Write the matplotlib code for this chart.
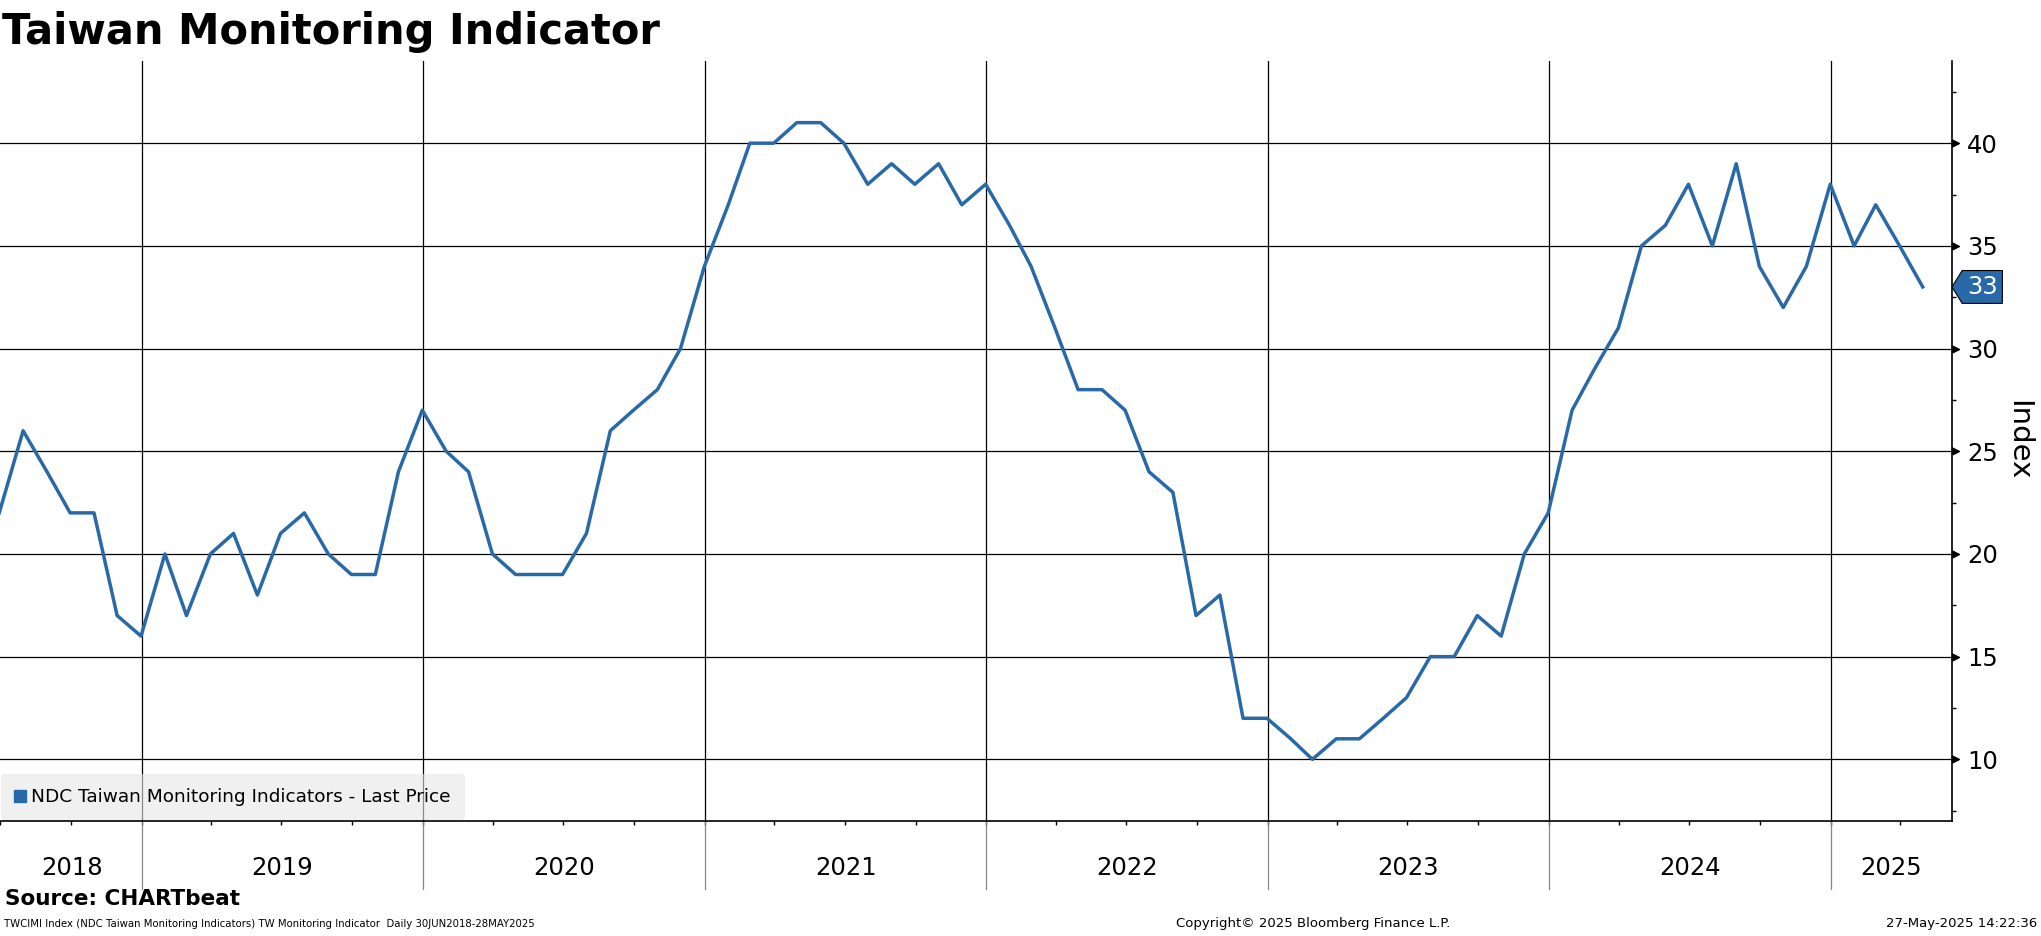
import numpy as np
import pandas as pd
import matplotlib
matplotlib.use("Agg")
import matplotlib.pyplot as plt
from matplotlib.transforms import blended_transform_factory
from matplotlib.patches import Polygon
from matplotlib.lines import Line2D

# monthly readings, Jun 2018 .. Apr 2025 (month end)
dates = pd.date_range("2018-06-30", "2025-04-30", freq="ME")
v2018 = [22, 26, 24, 22, 22, 17, 16]
v2019 = [20, 17, 20, 21, 18, 21, 22, 20, 19, 19, 24, 27]
v2020 = [25, 24, 20, 19, 19, 19, 21, 26, 27, 28, 30, 34]
v2021 = [37, 40, 40, 41, 41, 40, 38, 39, 38, 39, 37, 38]
v2022 = [36, 34, 31, 28, 28, 27, 24, 23, 17, 18, 12, 12]
v2023 = [11, 10, 11, 11, 12, 13, 15, 15, 17, 16, 20, 22]
v2024 = [27, 29, 31, 35, 36, 38, 35, 39, 34, 32, 34, 38]
v2025 = [35, 37, 35, 33]
values = v2018 + v2019 + v2020 + v2021 + v2022 + v2023 + v2024 + v2025

years = [2018, 2019, 2020, 2021, 2022, 2023, 2024, 2025]
yticks = [10, 15, 20, 25, 30, 35, 40]
series_name = "NDC Taiwan Monitoring Indicators - Last Price"

blue = "#2a69a8"
x0 = pd.Timestamp("2018-07-03")
x1 = pd.Timestamp("2025-06-07")

plt.rcParams["font.family"] = "DejaVu Sans"
fig = plt.figure(figsize=(20.41, 9.36), dpi=100)
ax = fig.add_axes([0, 0.1229, 0.9564, 0.8119])

ax.plot(dates, values, color=blue, lw=2.5, zorder=3)
ax.set_xlim(x0, x1)
ax.set_ylim(7, 44)

# grid
for y in yticks:
    ax.axhline(y, color="black", lw=0.9, zorder=1)
sep = blended_transform_factory(ax.transData, ax.transAxes)
for yr in years[1:]:
    d = pd.Timestamp(f"{yr}-01-01")
    ax.axvline(d, color="black", lw=0.9, zorder=1)
    ax.plot([d, d], [0, -0.09], transform=sep, color="#888888", lw=0.9, clip_on=False)

# spines
for s in ["left", "top"]:
    ax.spines[s].set_visible(False)
ax.spines["right"].set_linewidth(1.2)
ax.spines["bottom"].set_linewidth(1.2)

# y axis on the right
ax.yaxis.tick_right()
ax.set_yticks(yticks)
ax.set_yticks(np.arange(7.5, 44, 5), minor=True)
ax.tick_params(axis="y", which="major", length=0, pad=11, labelsize=17.5)
ax.tick_params(axis="y", which="minor", length=3.2, width=1, direction="out")
ytr = blended_transform_factory(ax.transAxes, ax.transData)
tri = [(0, -0.5), (1, 0), (0, 0.5), (0, -0.5)]
ax.plot([1.0] * len(yticks), yticks, ls="none", marker=tri, ms=10, color="black",
        transform=ytr, clip_on=False)

# x axis: quarterly ticks, year labels centred in each year
qt = pd.date_range("2018-07-01", "2025-04-01", freq="QS")
ax.set_xticks(qt)
ax.set_xticklabels([])
ax.tick_params(axis="x", which="major", length=3.2, width=1, direction="out")
for yr in years:
    a = max(pd.Timestamp(f"{yr}-01-01"), x0)
    b = min(pd.Timestamp(f"{yr + 1}-01-01"), x1)
    mid = a + (b - a) / 2
    ax.text(mid, -0.062, str(yr), transform=sep, ha="center", va="center", fontsize=17.5)

fig.text(2018 / 2041, 1 - 440 / 936, "Index", rotation=-90, ha="center", va="center", fontsize=21)

# last value tag
last = values[-1]
h, tip, w = 0.8, 0.0052, 0.0258
tag = Polygon([(1.0, last), (1.0 + tip, last + h), (1.0 + w, last + h),
               (1.0 + w, last - h), (1.0 + tip, last - h)], closed=True,
              transform=ytr, facecolor=blue, edgecolor="black", lw=0.8, clip_on=False, zorder=5)
ax.add_patch(tag)
ax.text(1.0 + (tip + w) / 2, last, str(last), transform=ytr, color="white", fontsize=17.5,
        ha="center", va="center", zorder=6)

# legend
handle = Line2D([], [], ls="none", marker="s", ms=9, color=blue)
leg = ax.legend([handle], [series_name], loc="lower left", bbox_to_anchor=(0, 0),
                borderaxespad=0.05, borderpad=0.75, fontsize=13.3, handlelength=0.6,
                handletextpad=0.3, frameon=True, fancybox=True, framealpha=0.6)
leg.get_frame().set_facecolor("#e6e6e6")
leg.get_frame().set_edgecolor("none")

# title and footer
fig.text(0.001, 1 - 44 / 936, "Taiwan Monitoring Indicator", fontsize=30, weight="bold",
         va="baseline", ha="left")
fig.text(5 / 2041, 1 - 899 / 936, "Source: CHARTbeat", fontsize=15.5, weight="bold", va="center")
fig.text(4 / 2041, 1 - 924 / 936,
         "TWCIMI Index (NDC Taiwan Monitoring Indicators) TW Monitoring Indicator  Daily 30JUN2018-28MAY2025",
         fontsize=7.3, va="center")
fig.text(1313 / 2041, 1 - 924 / 936, "Copyright\u00a9 2025 Bloomberg Finance L.P.", fontsize=9.5,
         va="center", ha="center")
fig.text(2037 / 2041, 1 - 924 / 936, "27-May-2025 14:22:36", fontsize=9.5, va="center", ha="right")

fig.savefig("out.png", dpi=100)
